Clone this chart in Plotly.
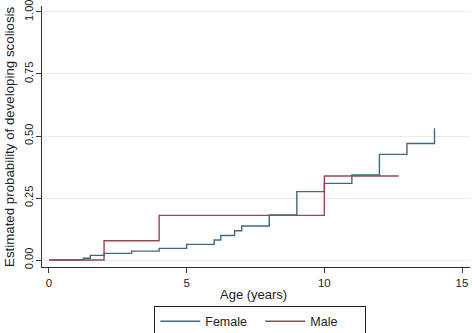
import plotly.graph_objects as go

female_age = [0, 1.25, 1.5, 2, 3, 4, 5, 6, 6.24, 6.74, 7, 8, 9, 10, 11, 12, 13, 14]
female_prob = [0, 0.007, 0.019, 0.027, 0.036, 0.047, 0.063, 0.081, 0.099, 0.118,
               0.137, 0.182, 0.276, 0.309, 0.343, 0.426, 0.470, 0.531]
male_age = [0, 2, 4, 10, 12.7]
male_prob = [0, 0.078, 0.180, 0.339, 0.339]

x_ticks = [0, 5, 10, 15]
y_ticks = [0, 0.25, 0.5, 0.75, 1.0]
y_tick_labels = ["0.00", "0.25", "0.50", "0.75", "1.00"]
x_title = "Age (years)"
y_title = "Estimated probability of developing scoliosis"

fig = go.Figure()
fig.add_trace(go.Scatter(x=female_age, y=female_prob, mode="lines", name="Female",
                         line=dict(shape="hv", color="#3F6887", width=1.4)))
fig.add_trace(go.Scatter(x=male_age, y=male_prob, mode="lines", name="Male",
                         line=dict(shape="hv", color="#96484F", width=1.4)))

font = "Liberation Sans, Arial, sans-serif"
fig.update_layout(
    width=472, height=333,
    margin=dict(l=42, r=2, t=6, b=66, autoexpand=False),
    paper_bgcolor="white", plot_bgcolor="white",
    font=dict(family=font, size=11, color="#222"),
    showlegend=True,
    legend=dict(orientation="h", x=0.51, xanchor="center", y=-0.148, yanchor="top",
                bordercolor="#222", borderwidth=1, font=dict(size=12.5),
                entrywidth=50, itemwidth=40, traceorder="normal"),
    xaxis=dict(range=[-0.254, 15.29], tickvals=x_ticks, ticks="outside", ticklen=5,
               tickcolor="#333", showline=True, linecolor="#333", linewidth=1,
               showgrid=False, zeroline=False, ticklabeloverflow="allow",
               automargin=False, tickfont=dict(size=11.5)),
    yaxis=dict(range=[-0.028, 1.024], tickvals=y_ticks, ticktext=y_tick_labels,
               tickangle=-90, ticks="outside", ticklen=5, tickcolor="#333",
               showline=True, linecolor="#333", linewidth=1, ticklabeloverflow="allow",
               ticklabelstandoff=-1,
               showgrid=True, gridcolor="#EAEAEA", gridwidth=1, zeroline=False,
               automargin=False, tickfont=dict(size=11)),
    annotations=[
        dict(text=x_title, xref="paper", yref="paper", x=0.495, y=-0.07,
             xanchor="center", yanchor="top", showarrow=False, font=dict(size=13)),
        dict(text=y_title, xref="paper", yref="paper", x=-0.076, y=0.5,
             xanchor="center", yanchor="middle", textangle=-90, showarrow=False,
             font=dict(size=13.3)),
    ],
)

fig.write_html("out.html", config={"displayModeBar": False},
               post_script="document.body.style.margin='0';")
